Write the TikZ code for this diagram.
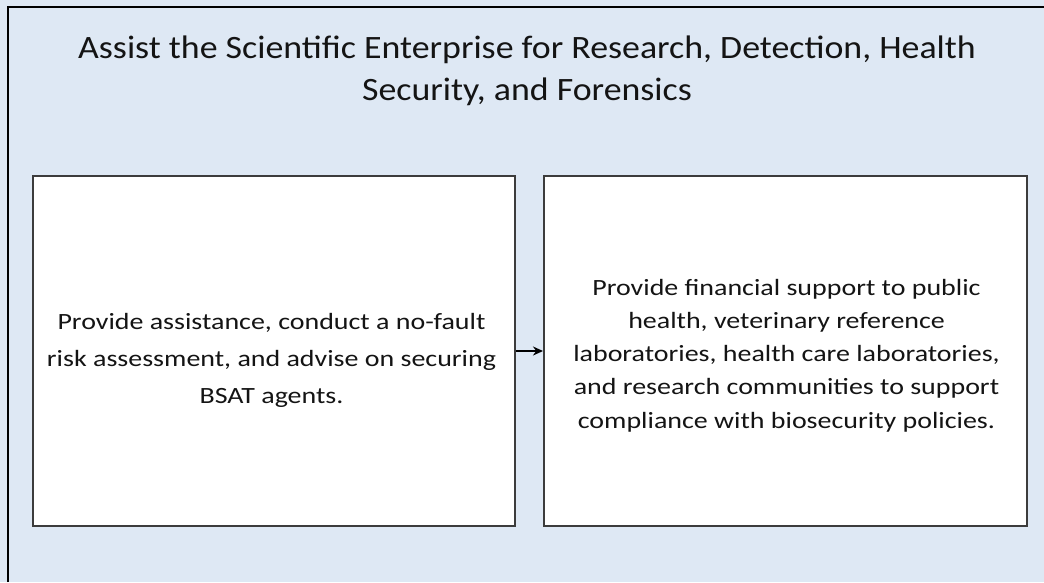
\documentclass[tikz,border=0pt]{standalone}
\usepackage{fontspec}
\setmainfont{Carlito}
\usetikzlibrary{arrows.meta}
\definecolor{bgblue}{HTML}{DEE8F4}
\definecolor{boxline}{HTML}{3C3C3C}
\definecolor{inktext}{HTML}{141414}
\begin{document}
\begin{tikzpicture}[x=1pt,y=1pt,
  panel/.style={draw=boxline,line width=2pt,fill=white,minimum width=482pt,minimum height=350pt,inner sep=0pt},
  bodytext/.style={align=center,text=inktext,inner sep=0pt,xscale=1.2,transform shape},
  link/.style={-{Stealth[length=10pt,width=9pt]},line width=2pt,black}]
\useasboundingbox (0,0) rectangle (1044,-582);
\fill[bgblue] (0,0) rectangle (1044,-582);
\draw[line width=2.5pt,black] (8,-582) -- (8,-7) -- (1044,-7);
\node[align=center,font=\fontsize{32.6}{42}\selectfont,text=inktext,inner sep=0pt,xscale=1.1,transform shape] (title) at (527,-70.5)
  {Assist the Scientific Enterprise for Research, Detection, Health\\Security, and Forensics};
\node[panel] (left) at (274,-351) {};
\node[panel,minimum width=483pt] (right) at (785.5,-351) {};
\node[bodytext,font=\fontsize{23.3}{37}\selectfont] (lefttext) at (271.5,-360) {Provide assistance, conduct a no-fault\\risk assessment, and advise on securing\\BSAT agents.};
\node[bodytext,font=\fontsize{23.3}{33.2}\selectfont] (righttext) at (786.5,-355.5) {Provide financial support to public\\health, veterinary reference\\laboratories, health care laboratories,\\and research communities to support\\compliance with biosecurity policies.};
\draw[link] (left.east) -- (right.west);
\end{tikzpicture}
\end{document}
